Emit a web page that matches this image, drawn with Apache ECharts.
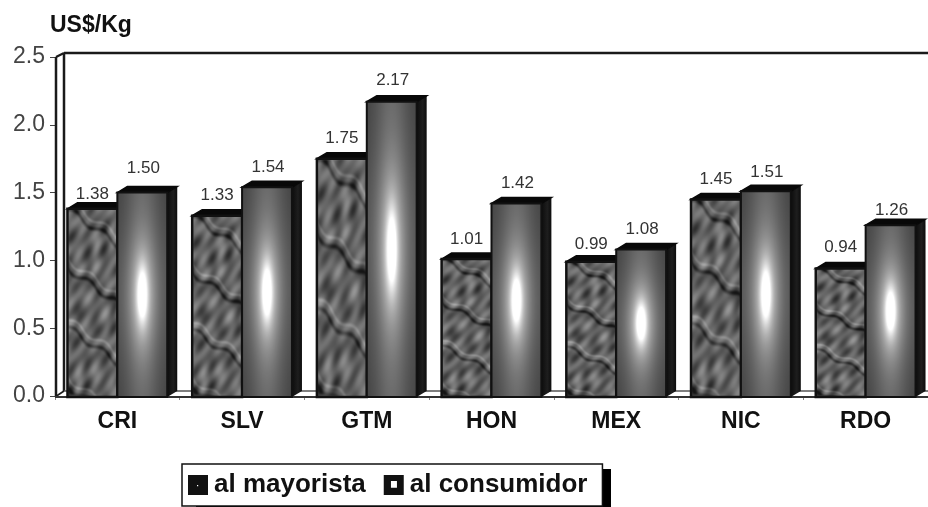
<!DOCTYPE html>
<html><head><meta charset="utf-8">
<style>html,body{margin:0;padding:0;background:#fff}#c{width:928px;height:507px}</style>
<script src="https://cdn.jsdelivr.net/npm/echarts@6/dist/echarts.min.js"></script>
</head><body><div id="c"></div>
<script>
const categories = ['CRI','SLV','GTM','HON','MEX','NIC','RDO'];
const mayorista = [1.38,1.33,1.75,1.01,0.99,1.45,0.94];
const consumidor = [1.50,1.54,2.17,1.42,1.08,1.51,1.26];
const yTicks = {min:0,max:2.5,interval:0.5};

const FONT = '"Liberation Sans", Arial, sans-serif';
const DX = 10, DY = 6;

function crumple(){
  const w=100,h=380,c=document.createElement('canvas'); c.width=w;c.height=h;
  const g=c.getContext('2d'),im=g.createImageData(w,h);
  for(let y=0;y<h;y++)for(let x=0;x<w;x++){
    const d=y-x*0.7+7*Math.sin(x/11+y/37);
    const e=x*0.9-y*0.45+14*Math.sin(x/17+y/31);
    let v=98
      +28*Math.sin(x/9+y/14)*Math.sin(y/21-x/13)
      +16*Math.sin(e/8)
      +14*Math.sin(x/4.3+y/6.1);
    const crease=Math.abs(Math.sin(d/38));
    if(crease<0.2) v-=60*(1-crease/0.2);
    const ridge=Math.abs(Math.sin((d+16)/38));
    if(ridge<0.14) v+=38*(1-ridge/0.14);
    const i=(y*w+x)*4;
    im.data[i]=im.data[i+1]=im.data[i+2]=Math.max(20,Math.min(215,v));im.data[i+3]=255;
  }
  g.putImageData(im,0,0);
  const o=document.createElement('canvas');o.width=w;o.height=h;
  const q=o.getContext('2d');q.filter='blur(1.5px)';q.drawImage(c,0,0);
  return o;
}
function glow(){
  const w=60,h=200,c=document.createElement('canvas'); c.width=w;c.height=h;
  const g=c.getContext('2d'),im=g.createImageData(w,h);
  for(let y=0;y<h;y++)for(let x=0;x<w;x++){
    const u=(x+.5)/w,v=(y+.5)/h;
    const base=60+40*Math.exp(-Math.pow((u-.5)/.36,2))+22*Math.exp(-Math.pow((v-.5)/.4,2));
    const halo=85*Math.exp(-Math.pow((u-.5)/.25,2)-Math.pow((v-.5)/.27,2));
    const core=125*Math.exp(-Math.pow((u-.5)/.1,2)-Math.pow((v-.5)/.13,2));
    const val=Math.min(255,base+halo+core),i=(y*w+x)*4;
    im.data[i]=im.data[i+1]=im.data[i+2]=val;im.data[i+3]=255;
  }
  g.putImageData(im,0,0);return c;
}
const textures=[crumple(),glow()];
const lift=[[15,20,20,20,17,20,21],[24,20,21,20,20,19,15]];

function barItem(si){
  return function(params,api){
    const i=api.value(0),val=api.value(1);
    const band=api.size([1,0])[0],W=band*0.4;
    const p=api.coord([i,val]),b=api.coord([i,0]);
    const l=si===0?p[0]-W:p[0],r=l+W,t=p[1],bt=b[1]+1;
    const ch=[];
    ch.push({type:'polygon',shape:{points:[[r,t],[r+DX,t-DY],[r+DX,bt-DY],[r,bt]]},style:{fill:{type:'linear',x:0,y:0,x2:1,y2:0,colorStops:[{offset:0,color:'#0c0c0c'},{offset:.6,color:'#1e1e1e'},{offset:1,color:'#0c0c0c'}]}}});
    ch.push({type:'polygon',shape:{points:[[l,t],[l+DX,t-DY],[r+DX,t-DY],[r,t]]},style:{fill:'#080808',stroke:'#080808',lineWidth:1.5}});
    ch.push({type:'image',style:{image:textures[si],x:l,y:t,width:W,height:bt-t}});
    ch.push({type:'rect',shape:{x:l,y:t,width:W,height:bt-t},style:{fill:'none',stroke:'#111',lineWidth:si===0?2.5:2}});
    ch.push({type:'text',style:{text:val.toFixed(2),x:l+W/2+(si===0?0:1),y:t-lift[si][i],align:'center',verticalAlign:'middle',font:'17px '+FONT,fill:'#333'}});
    return {type:'group',children:ch};
  };
}
function frameItem(params,api){
  const cs=params.coordSys,x0=cs.x,y0=cs.y,w=cs.width,h=cs.height,wx=x0+9,fy=y0+h-5,ty=y0-4;
  const L=(a,b,c,d,lw,col)=>({type:'line',shape:{x1:a,y1:b,x2:c,y2:d},style:{stroke:col||'#1a1a1a',lineWidth:lw}});
  return {type:'group',children:[
    L(x0+1,y0+h,x0+1,ty+4,2.5),L(wx,fy,wx,ty,2.5),L(x0+1,ty+4,wx,ty,2.2),
    L(wx,ty,x0+w,ty,2.6),L(x0,y0+h+1,wx,fy,1.6),L(wx,fy,x0+w,fy,1.6,'#555'),L(x0,y0+h+1,x0+w,y0+h+1,1.8,'#333')
  ]};
}
const iconSolid='path://M0 0H10V10H0ZM4.5 5V5.6H5.1V5Z';
const iconHollow='path://M0 0H10V10H0ZM3.6 3V6.4H6.6V3Z';
const chart=echarts.init(document.getElementById('c'),null,{renderer:'canvas'});
chart.setOption({
  animation:false,backgroundColor:'#fff',
  title:{text:'US$/Kg',left:50,top:14,padding:0,textStyle:{fontFamily:FONT,fontWeight:'bold',fontSize:23,color:'#111'}},
  grid:{left:55,right:0,top:57,bottom:111},
  xAxis:{type:'category',data:categories,
    axisLine:{show:false},
    axisTick:{show:true,length:4,lineStyle:{color:'#888'}},
    axisLabel:{margin:14,fontFamily:FONT,fontWeight:'bold',fontSize:23,color:'#111'}},
  yAxis:{type:'value',min:yTicks.min,max:yTicks.max,interval:yTicks.interval,
    axisLine:{show:false},
    axisTick:{show:true,length:5,lineStyle:{color:'#444'}},
    splitLine:{show:false},
    axisLabel:{margin:10,fontFamily:FONT,fontSize:23,color:'#444',formatter:v=>v.toFixed(1)}},
  graphic:[{type:'rect',z:0,silent:true,shape:{x:196,y:469,width:415,height:38},style:{fill:'#000'}}],
  legend:{data:[{name:'al mayorista',icon:iconSolid},{name:'al consumidor',icon:iconHollow}],
    left:182,top:464,orient:'horizontal',itemGap:18,itemWidth:22,itemHeight:20,
    padding:[8,15,8,6],z:5,
    borderColor:'#111',borderWidth:1.5,backgroundColor:'#fff',
    textStyle:{fontFamily:FONT,fontSize:26,fontWeight:'bold',color:'#111',padding:[0,0,0,0]}},
  series:[
    {type:'custom',name:'frame',renderItem:frameItem,data:[[0,0]],z:1,silent:true,clip:false,encode:{x:0,y:1}},
    {type:'custom',name:'al mayorista',renderItem:barItem(0),clip:false,z:2,encode:{x:0,y:1},itemStyle:{color:'#111'},
      data:mayorista.map((v,i)=>[i,v])},
    {type:'custom',name:'al consumidor',renderItem:barItem(1),clip:false,z:3,encode:{x:0,y:1},itemStyle:{color:'#111'},
      data:consumidor.map((v,i)=>[i,v])}
  ]
});
</script></body></html>
